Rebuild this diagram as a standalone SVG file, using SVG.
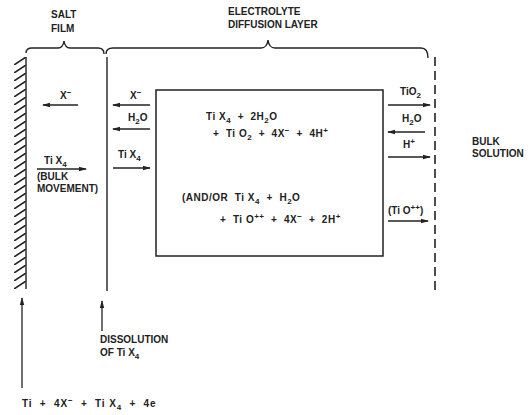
<svg xmlns="http://www.w3.org/2000/svg" width="531" height="415" viewBox="0 0 531 415">
<defs>
<marker id="ah" markerWidth="8" markerHeight="6" refX="7" refY="3" orient="auto" markerUnits="userSpaceOnUse">
<path d="M0,0.8 L8,3 L0,5.2 Z" fill="#222"/>
</marker>
<pattern id="hatch" width="12" height="8" patternUnits="userSpaceOnUse" x="14" y="57">
<line x1="0" y1="8" x2="12" y2="0" stroke="#222" stroke-width="1.6"/>
</pattern>
</defs>
<style>
text{font-family:"Liberation Sans",Arial,sans-serif;font-size:10px;font-weight:bold;fill:#222;white-space:pre}
.s{font-size:8px}
.eq{letter-spacing:0.5px}
.eqb{letter-spacing:0.9px}
.ln{stroke:#222;stroke-width:1.4;fill:none}
.ar{stroke:#222;stroke-width:1.3;fill:none;marker-end:url(#ah)}
</style>
<rect width="531" height="415" fill="#fff"/>
<g id="labels">
<text x="51" y="18">SALT</text>
<text x="51" y="32">FILM</text>
<text x="228" y="15">ELECTROLYTE</text>
<text x="228" y="28">DIFFUSION LAYER</text>
<text x="472" y="145">BULK</text>
<text x="472" y="157">SOLUTION</text>
</g>
<g id="braces">
<path class="ln" d="M26,53 Q26,48 32,48 L58,48 Q63,48 64,41 Q65,48 70,48 L98,48 Q104,48 104,54"/>
<path class="ln" d="M106,54 Q106,48 113,48 L261,48 Q267,48 268,40 Q269,48 275,48 L421,48 Q428,48 428,58"/>
</g>
<g id="wall">
<rect x="14" y="57" width="12" height="232" fill="url(#hatch)"/>
<line class="ln" x1="26" y1="57" x2="26" y2="289"/>
</g>
<g id="salt-film-boundary">
<line class="ln" x1="107" y1="57" x2="107" y2="291"/>
</g>
<g id="bulk-boundary">
<line x1="435" y1="57" x2="435" y2="290" stroke="#222" stroke-width="1.6" stroke-dasharray="9,5"/>
</g>
<g id="reaction-box">
<rect x="156" y="90" width="227" height="166" fill="none" stroke="#222" stroke-width="1.5"/>
<text class="eq" x="206" y="120">Ti X<tspan class="s" dy="3">4</tspan><tspan dy="-3">  +  2H</tspan><tspan class="s" dy="3">2</tspan><tspan dy="-3">O</tspan></text>
<text class="eq" x="213" y="137">+  Ti O<tspan class="s" dy="3">2</tspan><tspan dy="-3">  +  4X</tspan><tspan class="s" dy="-4">−</tspan><tspan dy="4">  +  4H</tspan><tspan class="s" dy="-4">+</tspan></text>
<text class="eq" x="182" y="201">(AND/OR  Ti X<tspan class="s" dy="3">4</tspan><tspan dy="-3">  +  H</tspan><tspan class="s" dy="3">2</tspan><tspan dy="-3">O</tspan></text>
<text class="eq" x="220" y="223">+  Ti O<tspan class="s" dy="-4">++</tspan><tspan dy="4">  +  4X</tspan><tspan class="s" dy="-4">−</tspan><tspan dy="4">  +  2H</tspan><tspan class="s" dy="-4">+</tspan></text>
</g>
<g id="salt-film-fluxes">
<text x="60" y="99">X<tspan class="s" dy="-4">−</tspan></text>
<text x="44" y="164">Ti X<tspan class="s" dy="3">4</tspan></text>
<text x="37" y="180">(BULK</text>
<text x="37" y="192">MOVEMENT)</text>
</g>
<g id="diffusion-fluxes">
<text x="130" y="99">X<tspan class="s" dy="-4">−</tspan></text>
<text x="128" y="121">H<tspan class="s" dy="3">2</tspan><tspan dy="-3">O</tspan></text>
<text x="118" y="158">Ti X<tspan class="s" dy="3">4</tspan></text>
<text x="400" y="95">TiO<tspan class="s" dy="3">2</tspan></text>
<text x="402" y="122">H<tspan class="s" dy="3">2</tspan><tspan dy="-3">O</tspan></text>
<text x="403" y="148">H<tspan class="s" dy="-4">+</tspan></text>
<text x="388" y="214">(Ti O<tspan class="s" dy="-4">++</tspan><tspan dy="4">)</tspan></text>
</g>
<g id="bottom-labels">
<text x="100" y="343">DISSOLUTION</text>
<text x="100" y="356">OF Ti X<tspan class="s" dy="3">4</tspan></text>
<text class="eqb" x="22" y="407">Ti  +  4X<tspan class="s" dy="-4">−</tspan><tspan dy="4">  +  Ti X</tspan><tspan class="s" dy="3">4</tspan><tspan dy="-3">  +  4e</tspan></text>
</g>
<g id="connectors">
<line class="ar" x1="78" y1="105" x2="43" y2="105"/>
<line class="ar" x1="37" y1="169" x2="86" y2="169"/>
<line class="ar" x1="150" y1="105" x2="113" y2="105"/>
<line class="ar" x1="150" y1="129" x2="113" y2="129"/>
<line class="ar" x1="113" y1="168" x2="150" y2="168"/>
<line class="ar" x1="388" y1="105" x2="430" y2="105"/>
<line class="ar" x1="425" y1="132" x2="388" y2="132"/>
<line class="ar" x1="388" y1="157" x2="430" y2="157"/>
<line class="ar" x1="388" y1="221" x2="428" y2="221"/>
<line class="ar" x1="22" y1="388" x2="22" y2="298"/>
<line class="ar" x1="102" y1="331" x2="102" y2="301"/>
</g>
</svg>
